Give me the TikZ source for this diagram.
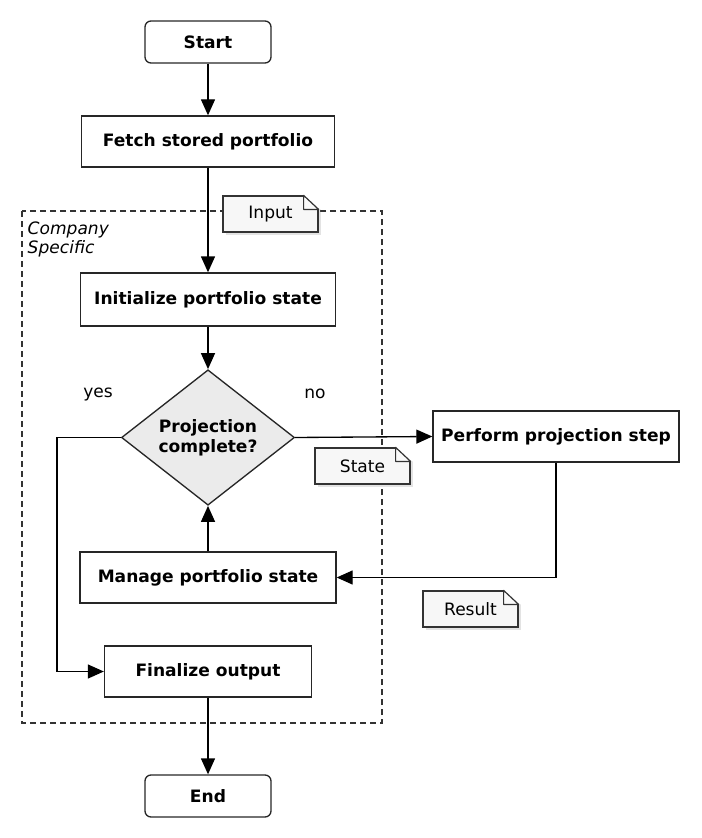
\documentclass[tikz,border=0pt]{standalone}
\usepackage{fontspec}
\setmainfont{DejaVu Sans}
\usetikzlibrary{shapes.geometric,arrows.meta,shadows}

\newcommand{\boxfont}{\fontsize{12.8}{15}\selectfont\bfseries}
\newcommand{\plainfont}{\fontsize{12.8}{14.5}\selectfont}
% folded corner on top of a note node
\newcommand{\dogear}[1]{%
  \fill[white] ([shift={(-11.25pt,1pt)}]#1.north east) -- ([shift={(3pt,1pt)}]#1.north east)
    -- ([shift={(3pt,-10.5pt)}]#1.north east) -- ([yshift=-10.5pt]#1.north east)
    -- ([xshift=-11.25pt]#1.north east) -- cycle;
  \filldraw[fill=black!2, draw=black!80, line width=0.9pt, line join=round]
    ([xshift=-11.25pt]#1.north east) -- ([shift={(-11.25pt,-10.5pt)}]#1.north east)
    -- ([yshift=-10.5pt]#1.north east) -- cycle;
}

\begin{document}
\begin{tikzpicture}[x=0.75pt,y=-0.75pt]
        \tikzstyle{terminal}=[rectangle,rounded corners=4.5pt,draw=black!85,line width=1pt,minimum width=94.5pt,minimum height=31.5pt,font=\boxfont]
        \tikzstyle{process}=[rectangle,draw=black!85,line width=1pt,minimum height=38.25pt,font=\boxfont]
        \tikzstyle{decision}=[diamond,draw=black!85,line width=1pt,fill=black!8,minimum width=129.75pt,minimum height=101.25pt,inner sep=0pt,align=center,font=\boxfont]
        \tikzstyle{note}=[rectangle,draw=black!80,line width=0.9pt,fill=black!3,drop shadow={opacity=0.22,shadow xshift=2pt,shadow yshift=-2.2pt},minimum width=71.25pt,minimum height=27pt,font=\plainfont]
        \tikzstyle{region}=[draw=black!80,line width=0.8pt,dash pattern=on 4.5pt off 3pt]
        \tikzstyle{edge}=[draw,line width=1pt,-{Triangle[length=12pt,width=10.5pt]}]
        \useasboundingbox (0,0) rectangle (701,838);

        % company specific part
        \draw[region] (22,211) rectangle (382,723);
        \node [anchor=north west,align=left,font=\plainfont\itshape] (company) at (23,217) {Company\\Specific};

        \node [terminal] (start) at (208,42) {Start};
        \node [process,minimum width=189.75pt] (fetch) at (208,141.5) {Fetch stored portfolio};
        \node [process,minimum width=191.25pt,minimum height=39.75pt] (init) at (208,299.5) {Initialize portfolio state};
        \node [decision] (decide) at (208,437.5) {Projection\\complete?};
        \node [process,minimum width=184.5pt] (perform) at (556,436.5) {Perform projection step};
        \node [process,minimum width=192pt] (manage) at (208,577.5) {Manage portfolio state};
        \node [process,minimum width=155.25pt] (finalize) at (208,671.5) {Finalize output};
        \node [terminal] (end) at (208,796) {End};

        \node [font=\plainfont] (yes) at (98,394) {yes};
        \node [font=\plainfont] (no) at (315,394) {no};

        \path[edge] (start) -- (fetch);
        \path[edge] (fetch) -- (init);
        \path[edge] (init) -- (decide);
        \path[edge] (decide.east) -- (perform.west);
        \path[edge] (perform.south) |- (manage.east);
        \path[edge] (manage) -- (decide);
        \path[edge] (decide.west) -- ++(-64,0) |- (finalize.west);
        \path[edge] (finalize) -- (end);

        % notes
        \node [note] (input) at (270.5,214) {Input};
        \dogear{input}
        \node [note] (state) at (362.5,466) {State};
        \dogear{state}
        \node [note] (result) at (470.5,609) {Result};
        \dogear{result}
\end{tikzpicture}
\end{document}
